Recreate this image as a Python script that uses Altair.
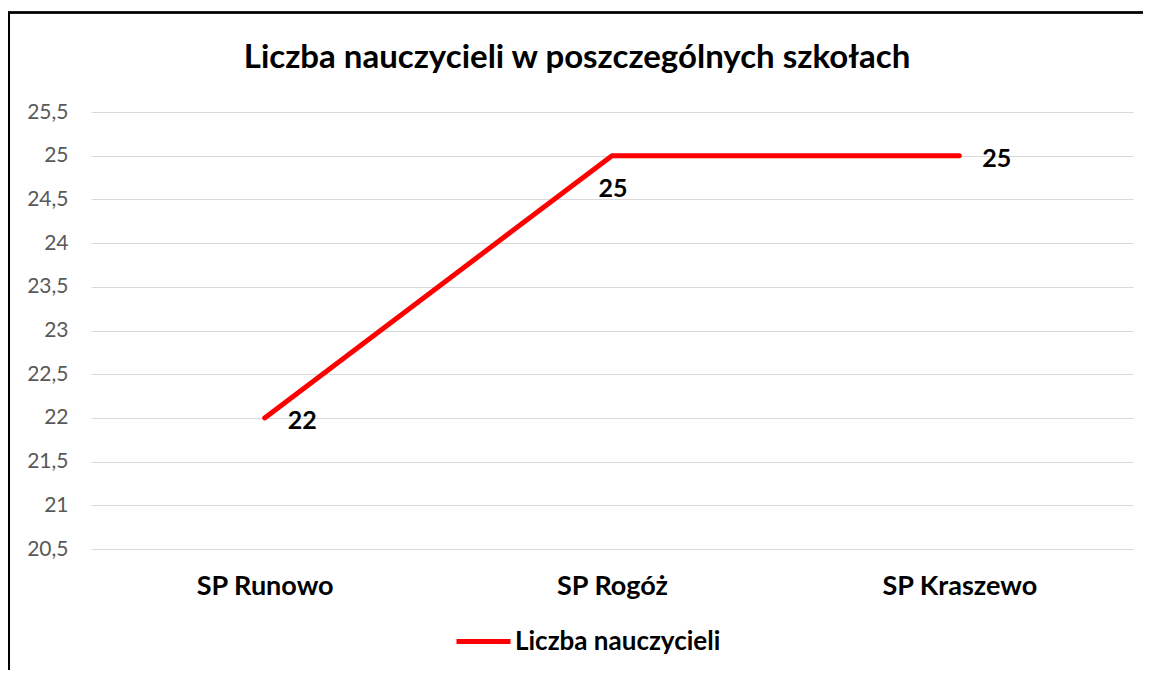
import altair as alt
import pandas as pd

categories = ["SP Runowo", "SP Rogóż", "SP Kraszewo"]
values = [22, 25, 25]
series_name = "Liczba nauczycieli"
y_ticks = [20.5, 21, 21.5, 22, 22.5, 23, 23.5, 24, 24.5, 25, 25.5]
title_text = "Liczba nauczycieli w poszczególnych szkołach"

df = pd.DataFrame({"szkola": categories, "wartosc": values, "seria": [series_name] * len(categories)})

FONT = "Lato"

x_enc = alt.X("szkola:N", sort=categories, title=None,
              scale=alt.Scale(paddingInner=0, paddingOuter=0),
              axis=alt.Axis(labelFont=FONT, labelFontWeight="bold", labelFontSize=27,
                            labelColor="#000000", labelAngle=0, labelPadding=24,
                            domain=False, ticks=False, grid=False))
y_enc = alt.Y("wartosc:Q", title=None,
              scale=alt.Scale(domain=[20.5, 25.5], nice=False, zero=False),
              axis=alt.Axis(values=y_ticks, labelFont=FONT, labelFontSize=21,
                            labelColor="#595959", labelPadding=23,
                            labelExpr="replace(toString(datum.value), '.', ',')",
                            domain=False, ticks=False, grid=True,
                            gridColor="#D9D9D9", gridWidth=1))

base = alt.Chart(df)

line = base.mark_line(strokeWidth=5, strokeCap="round", strokeJoin="round").encode(
    x=x_enc, y=y_enc,
    color=alt.Color("seria:N", scale=alt.Scale(range=["#FF0000"]), title=None,
                    legend=alt.Legend(orient="none", legendX=363, legendY=500,
                                      symbolType="stroke", symbolSize=2916,
                                      symbolStrokeWidth=5, labelFont=FONT,
                                      labelFontWeight="bold", labelFontSize=26,
                                      labelColor="#000000", labelOffset=2,
                                      labelLimit=500))
)

labels_right = base.transform_filter(alt.datum.szkola != "SP Rogóż").mark_text(
    align="left", baseline="middle", dx=23, dy=3, font=FONT, fontWeight="bold",
    fontSize=25, color="#000000").encode(x=x_enc, y=y_enc, text="wartosc:Q")

labels_below = base.transform_filter(alt.datum.szkola == "SP Rogóż").mark_text(
    align="center", baseline="middle", dx=1, dy=33, font=FONT, fontWeight="bold",
    fontSize=25, color="#000000").encode(x=x_enc, y=y_enc, text="wartosc:Q")

border_left = alt.Chart(df).mark_rule(color="#000000", strokeWidth=2).encode(
    x=alt.value(-82), y=alt.value(-99.5), y2=alt.value(600))
border_top = alt.Chart(df).mark_rule(color="#000000", strokeWidth=2).encode(
    x=alt.value(-83), x2=alt.value(1100), y=alt.value(-99.5))

chart = alt.layer(line, labels_right, labels_below, border_left, border_top).properties(
    width=1042, height=437,
    padding={"left": 83, "top": 104, "right": 10, "bottom": 121},
    autosize=alt.AutoSizeParams(type="none"),
    title=alt.TitleParams(title_text, font=FONT, fontSize=33, fontWeight="bold",
                          color="#000000", anchor="middle", dx=-35, offset=-63)
).configure_view(stroke=None)

chart.save("out.html", embed_options={"renderer": "svg", "actions": False})
